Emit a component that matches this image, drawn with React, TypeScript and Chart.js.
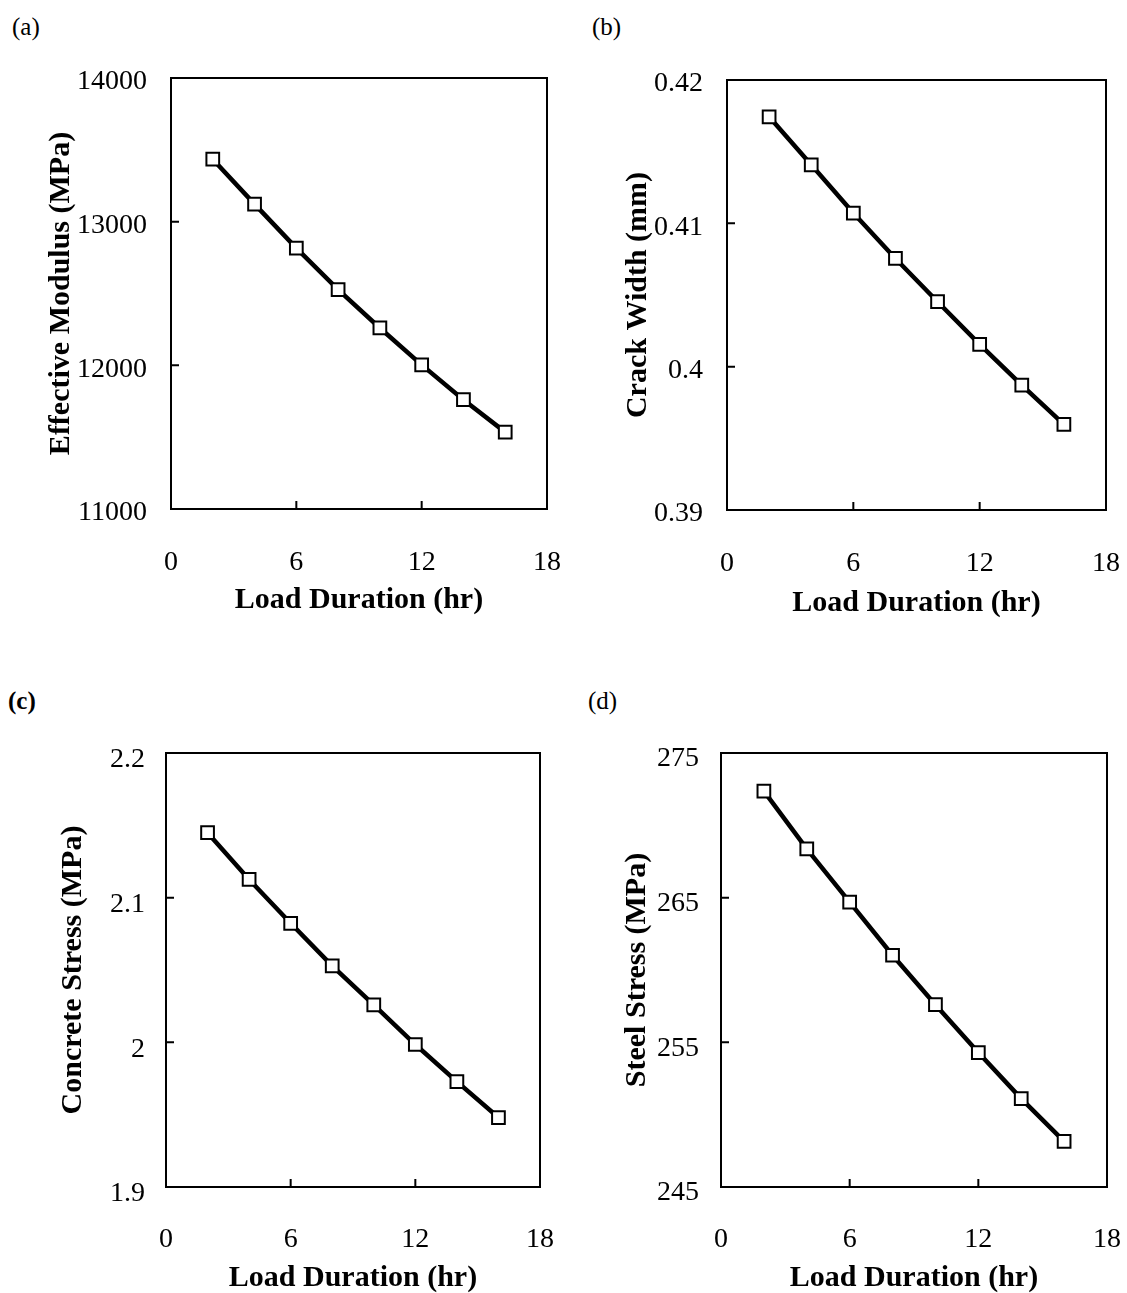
import React, { useEffect, useRef } from 'react';
import { Chart, registerables } from 'chart.js';

Chart.register(...registerables);

// ---------- data ----------
const loadDuration = [2, 4, 6, 8, 10, 12, 14, 16];
const effectiveModulus = [13435, 13122, 12816, 12527, 12260, 12003, 11761, 11535];
const crackWidth = [0.41743, 0.41408, 0.41072, 0.40755, 0.40453, 0.40155, 0.39872, 0.39597];
const concreteStress = [2.1449, 2.1126, 2.0823, 2.0529, 2.0259, 1.9985, 1.9728, 1.948];
const steelStress = [272.36, 268.37, 264.69, 261.02, 257.6, 254.29, 251.11, 248.15];

const xTicks = [0, 6, 12, 18];
const yTicksA = [11000, 12000, 13000, 14000];
const yTicksB = [0.39, 0.4, 0.41, 0.42];
const yTicksC = [1.9, 2.0, 2.1, 2.2];
const yTicksD = [245, 255, 265, 275];

const xTitle = 'Load Duration (hr)';
const yTitleA = 'Effective Modulus (MPa)';
const yTitleB = 'Crack Width (mm)';
const yTitleC = 'Concrete Stress (MPa)';
const yTitleD = 'Steel Stress (MPa)';

const FONT = "'Liberation Serif', 'Times New Roman', serif";

const fmt = (v: number) => String(Number(Number(v).toFixed(4)));

const framePlugin = {
  id: 'frameTicks',
  beforeDatasetsDraw(chart: any) {
    const { ctx, chartArea, scales } = chart;
    const { left, top, right, bottom } = chartArea;
    const x = scales.x;
    const y = scales.y;
    ctx.save();
    ctx.strokeStyle = '#000';
    ctx.lineWidth = 2;
    ctx.strokeRect(left, top, right - left, bottom - top);
    ctx.beginPath();
    x.ticks.forEach((t: any) => {
      if (t.value > x.min && t.value < x.max) {
        const px = x.getPixelForValue(t.value);
        ctx.moveTo(px, bottom);
        ctx.lineTo(px, bottom - 8);
      }
    });
    y.ticks.forEach((t: any) => {
      if (t.value > y.min && t.value < y.max) {
        const py = y.getPixelForValue(t.value);
        ctx.moveTo(left, py);
        ctx.lineTo(left + 8, py);
      }
    });
    ctx.stroke();
    ctx.restore();
  },
};

type Box = { x: number; y: number; w: number; h: number };
type Area = { l: number; t: number; r: number; b: number };

interface PanelProps {
  values: number[];
  yTicks: number[];
  yTitle: string;
  box: Box;
  area: Area;
  yLabelPad: number;
  yLabelOffset: number;
  yTitlePad: number;
  xLabelPad: number;
  xTitlePad: number;
}

function Panel(p: PanelProps) {
  const ref = useRef<HTMLCanvasElement | null>(null);
  useEffect(() => {
    if (!ref.current) return;
    const { box, area } = p;
    const chart = new Chart(ref.current, {
      type: 'line',
      data: {
        datasets: [
          {
            data: loadDuration.map((x, i) => ({ x, y: p.values[i] })),
            borderColor: '#000',
            borderWidth: 4.5,
            pointStyle: 'rect',
            pointRadius: 9,
            pointBackgroundColor: '#fff',
            pointBorderColor: '#000',
            pointBorderWidth: 2,
            tension: 0,
            clip: false as any,
          },
        ],
      },
      options: {
        responsive: false,
        animation: false,
        events: [],
        layout: {
          padding: { top: area.t - box.y, right: box.x + box.w - area.r, left: 0, bottom: 0 },
        },
        plugins: { legend: { display: false }, tooltip: { enabled: false } },
        scales: {
          x: {
            type: 'linear',
            min: xTicks[0],
            max: xTicks[xTicks.length - 1],
            afterBuildTicks: (s: any) => {
              s.ticks = xTicks.map((v) => ({ value: v }));
            },
            afterFit: (s: any) => {
              s.height = box.y + box.h - area.b;
              s.paddingLeft = 0;
              s.paddingRight = 0;
            },
            grid: { display: false, drawTicks: false },
            border: { display: false },
            ticks: {
              padding: p.xLabelPad,
              color: '#000',
              autoSkip: false,
              maxRotation: 0,
              font: { family: FONT, size: 28 },
              callback: (v: any) => fmt(v),
            },
            title: {
              display: true,
              text: xTitle,
              color: '#000',
              font: { family: FONT, size: 30, weight: 'bold', lineHeight: 1 },
              padding: { top: 0, bottom: p.xTitlePad },
            },
          },
          y: {
            type: 'linear',
            min: p.yTicks[0],
            max: p.yTicks[p.yTicks.length - 1],
            afterBuildTicks: (s: any) => {
              s.ticks = p.yTicks.map((v) => ({ value: v }));
            },
            afterFit: (s: any) => {
              s.width = area.l - box.x;
              s.paddingTop = 0;
              s.paddingBottom = 0;
            },
            grid: { display: false, drawTicks: false },
            border: { display: false },
            ticks: {
              padding: p.yLabelPad,
              labelOffset: p.yLabelOffset,
              color: '#000',
              autoSkip: false,
              font: { family: FONT, size: 28 },
              callback: (v: any) => fmt(v),
            },
            title: {
              display: true,
              text: p.yTitle,
              color: '#000',
              font: { family: FONT, size: 30, weight: 'bold', lineHeight: 1 },
              padding: { top: p.yTitlePad, bottom: 0 },
            },
          },
        },
      } as any,
      plugins: [framePlugin],
    });
    return () => chart.destroy();
  }, []);
  const { box } = p;
  return (
    <canvas
      ref={ref}
      width={box.w}
      height={box.h}
      style={{ position: 'absolute', left: box.x, top: box.y, width: box.w, height: box.h }}
    />
  );
}

const labelStyle = (x: number, y: number, bold = false): React.CSSProperties => ({
  position: 'absolute',
  left: x,
  top: y,
  fontFamily: FONT,
  fontSize: 25,
  lineHeight: '25px',
  fontWeight: bold ? 'bold' : 'normal',
  color: '#000',
});

export default function App() {
  return (
    <div
      style={{
        position: 'absolute',
        left: 0,
        top: 0,
        width: 1127,
        height: 1293,
        overflow: 'hidden',
        background: '#fff',
      }}
    >
      <div style={labelStyle(12, 14)}>(a)</div>
      <div style={labelStyle(592, 14)}>(b)</div>
      <div style={labelStyle(8, 688, true)}>(c)</div>
      <div style={labelStyle(588, 688)}>(d)</div>
      <Panel
        values={effectiveModulus}
        yTicks={yTicksA}
        yTitle={yTitleA}
        box={{ x: 0, y: 0, w: 563, h: 640 }}
        area={{ l: 171, t: 78, r: 547, b: 509 }}
        yLabelPad={24}
        yLabelOffset={4}
        yTitlePad={46}
        xLabelPad={37}
        xTitlePad={25}
      />
      <Panel
        values={crackWidth}
        yTicks={yTicksB}
        yTitle={yTitleB}
        box={{ x: 563, y: 0, w: 564, h: 640 }}
        area={{ l: 727, t: 80, r: 1106, b: 510 }}
        yLabelPad={24}
        yLabelOffset={4}
        yTitlePad={60}
        xLabelPad={37}
        xTitlePad={22}
      />
      <Panel
        values={concreteStress}
        yTicks={yTicksC}
        yTitle={yTitleC}
        box={{ x: 0, y: 640, w: 563, h: 653 }}
        area={{ l: 166, t: 753, r: 540, b: 1187 }}
        yLabelPad={21}
        yLabelOffset={7}
        yTitlePad={58}
        xLabelPad={36}
        xTitlePad={0}
      />
      <Panel
        values={steelStress}
        yTicks={yTicksD}
        yTitle={yTitleD}
        box={{ x: 563, y: 640, w: 564, h: 653 }}
        area={{ l: 721, t: 753, r: 1107, b: 1187 }}
        yLabelPad={22}
        yLabelOffset={6}
        yTitlePad={59}
        xLabelPad={36}
        xTitlePad={0}
      />
    </div>
  );
}
